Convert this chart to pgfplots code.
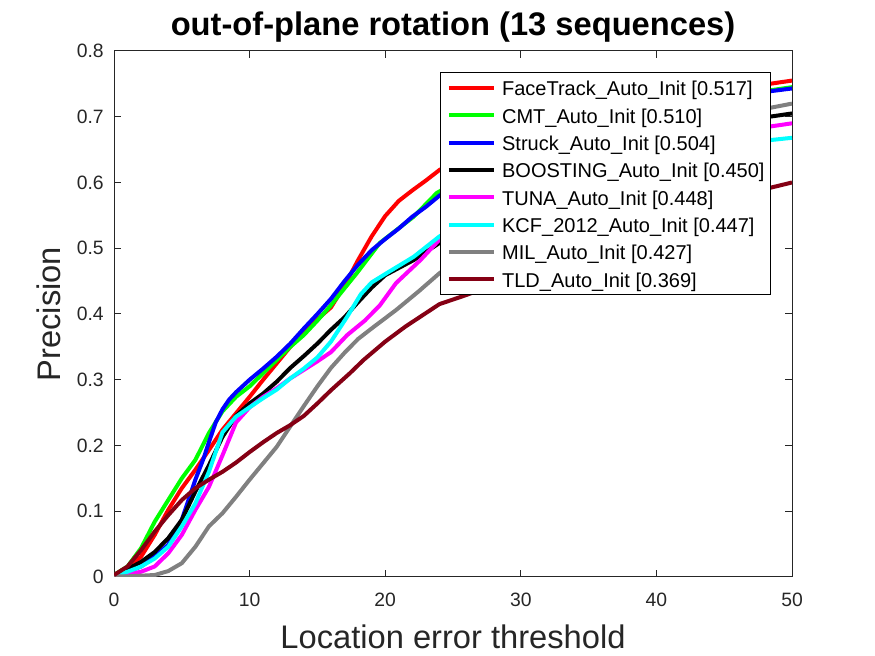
\documentclass[border=0pt]{standalone}
\usepackage{pgfplots}
\pgfplotsset{compat=1.18}
\usepackage{fontspec}
\setmainfont{Liberation Sans}
\definecolor{axgray}{rgb}{0.15,0.15,0.15}
\definecolor{tldred}{rgb}{0.52,0,0.08}
\definecolor{milgray}{rgb}{0.5,0.5,0.5}
\definecolor{mred}{rgb}{1,0,0}
\definecolor{mgreen}{rgb}{0,1,0}
\definecolor{mblue}{rgb}{0,0,1}
\definecolor{mmag}{rgb}{1,0,1}
\definecolor{mcyan}{rgb}{0,1,1}
\begin{document}
\begin{tikzpicture}
\useasboundingbox (0,0) rectangle (656.25pt,492pt);
\begin{axis}[
  at={(85.5pt,59.25pt)}, anchor=south west,
  width=508.5pt, height=394.5pt, scale only axis,
  xmin=0, xmax=50, ymin=0, ymax=0.8,
  xtick={0,10,20,30,40,50},
  ytick={0,0.1,0.2,0.3,0.4,0.5,0.6,0.7,0.8},
  tick align=inside, tick pos=both,
  major tick length=5.25pt,
  every tick/.style={axgray, line width=0.75pt},
  axis line style={axgray, line width=0.75pt},
  /pgf/number format/assume math mode=true,
  ticklabel style={font=\fontsize{14.5}{17}\selectfont, text=axgray},
  yticklabel style={/pgf/number format/fixed, /pgf/number format/precision=1, anchor=east, inner sep=0pt, xshift=-7.5pt},
  xticklabel style={anchor=north, inner sep=0pt, yshift=-12pt},
  title={out-of-plane rotation (13 sequences)},
  title style={at={(axis description cs:0.5,1.0152)}, anchor=base, font=\bfseries\fontsize{24.5}{29}\selectfont, text=black},
  xlabel={Location error threshold},
  xlabel style={at={(axis description cs:0.5,-0.135)}, anchor=base, font=\fontsize{24.5}{29}\selectfont, text=axgray},
  ylabel={Precision},
  ylabel style={at={(axis description cs:-0.0796,0.5)}, anchor=base, rotate=0, font=\fontsize{24.5}{29}\selectfont, text=axgray},
  legend cell align=left,
  legend image code/.code={\draw[#1] (0pt,0pt) -- (33.75pt,0pt); \path (38.5pt,0pt);},
  legend style={at={(axis description cs:1,1)}, xshift=-15.75pt, yshift=-15.5pt, anchor=north east,
    draw=black, line width=0.75pt, inner xsep=4.5pt, inner ysep=3.3pt,
    font=\fontsize{15}{18}\selectfont, row sep=3.5pt,
    nodes={inner sep=0pt, text height=14.5pt, text depth=2.5pt}},
  every axis plot/.append style={line width=3pt, line join=round},
]
\addplot[mred] coordinates {(0,0.003)(1,0.014)(2,0.031)(3,0.064)(4,0.102)(5,0.135)(6,0.163)(7,0.193)(8,0.224)(9,0.249)(10,0.274)(11,0.300)(12,0.325)(13,0.350)(14,0.373)(15,0.392)(16,0.410)(17,0.443)(18,0.482)(19,0.518)(20,0.549)(21,0.572)(22,0.588)(23,0.603)(24,0.619)(26,0.640)(28,0.660)(30,0.675)(33,0.695)(36,0.710)(40,0.725)(45,0.740)(50,0.755)};
\addlegendentry{FaceTrack\_Auto\_Init [0.517]}
\addplot[mgreen] coordinates {(0,0.003)(1,0.016)(2,0.044)(3,0.084)(4,0.117)(5,0.150)(6,0.178)(7,0.219)(8,0.252)(9,0.274)(10,0.290)(11,0.310)(12,0.330)(13,0.350)(14,0.368)(15,0.390)(15.9,0.411)(17.9,0.462)(19.6,0.508)(22.1,0.548)(23.8,0.584)(26,0.610)(28,0.630)(30,0.650)(35,0.685)(40,0.710)(45,0.730)(50,0.745)};
\addlegendentry{CMT\_Auto\_Init [0.510]}
\addplot[mblue] coordinates {(0,0.003)(1,0.008)(2,0.016)(3,0.031)(4,0.049)(5,0.087)(6,0.148)(6.6,0.180)(7,0.205)(7.5,0.235)(8,0.255)(8.5,0.270)(9,0.281)(10,0.300)(11,0.317)(12,0.335)(13,0.355)(14,0.378)(15,0.400)(16,0.423)(17,0.450)(18,0.475)(19,0.497)(20,0.514)(21,0.530)(22,0.548)(23,0.563)(24,0.580)(26,0.605)(28,0.625)(30,0.645)(35,0.685)(40,0.710)(45,0.730)(50,0.743)};
\addlegendentry{Struck\_Auto\_Init [0.504]}
\addplot[black] coordinates {(0,0.003)(1,0.012)(2,0.023)(3,0.038)(4,0.059)(5,0.087)(6,0.130)(7,0.170)(8,0.213)(9,0.245)(10,0.264)(11,0.279)(12,0.297)(13,0.318)(14,0.336)(15,0.355)(16,0.376)(17,0.395)(18,0.418)(19,0.440)(20,0.459)(22.1,0.482)(24,0.508)(26,0.530)(30,0.570)(35,0.620)(40,0.660)(45,0.690)(50,0.705)};
\addlegendentry{BOOSTING\_Auto\_Init [0.450]}
\addplot[mmag] coordinates {(0,0.002)(1,0.004)(2,0.008)(3,0.016)(4,0.036)(5,0.064)(6,0.102)(7,0.137)(8,0.185)(9,0.235)(10,0.258)(11,0.274)(12,0.287)(13,0.302)(14,0.315)(15,0.328)(16,0.342)(17.2,0.368)(18.5,0.390)(19.6,0.413)(20.8,0.447)(22.6,0.482)(24,0.513)(26,0.540)(30,0.580)(35,0.620)(40,0.650)(45,0.675)(50,0.690)};
\addlegendentry{TUNA\_Auto\_Init [0.448]}
\addplot[mcyan] coordinates {(0,0.003)(1,0.008)(2,0.016)(3,0.028)(4,0.046)(5,0.077)(6,0.112)(7,0.160)(8,0.220)(9,0.244)(10,0.258)(11,0.272)(12,0.285)(13,0.302)(14,0.317)(15,0.334)(16,0.358)(17.2,0.396)(18.2,0.430)(19,0.448)(20.1,0.462)(22.1,0.487)(24,0.518)(26,0.540)(30,0.575)(35,0.615)(40,0.640)(45,0.657)(50,0.668)};
\addlegendentry{KCF\_2012\_Auto\_Init [0.447]}
\addplot[milgray] coordinates {(0,0.001)(1,0.001)(2,0.002)(3,0.003)(4,0.009)(5,0.021)(6,0.046)(7,0.077)(8,0.097)(9,0.122)(10,0.148)(11,0.173)(12,0.198)(13,0.229)(14,0.260)(15,0.290)(16,0.318)(17,0.341)(18,0.362)(19,0.378)(20.8,0.406)(22.5,0.435)(24,0.462)(26,0.490)(30,0.550)(35,0.610)(40,0.660)(45,0.700)(50,0.720)};
\addlegendentry{MIL\_Auto\_Init [0.427]}
\addplot[tldred] coordinates {(0,0.003)(1,0.016)(2,0.041)(3,0.069)(4,0.094)(5,0.117)(6,0.135)(7,0.148)(8,0.160)(9,0.174)(10,0.190)(11,0.205)(12,0.219)(13,0.231)(14,0.245)(15,0.264)(16,0.284)(17.4,0.310)(18.4,0.330)(20,0.358)(21.5,0.381)(24,0.415)(26,0.429)(30,0.460)(35,0.500)(40,0.540)(45,0.575)(50,0.600)};
\addlegendentry{TLD\_Auto\_Init [0.369]}
\end{axis}
\end{tikzpicture}
\end{document}
